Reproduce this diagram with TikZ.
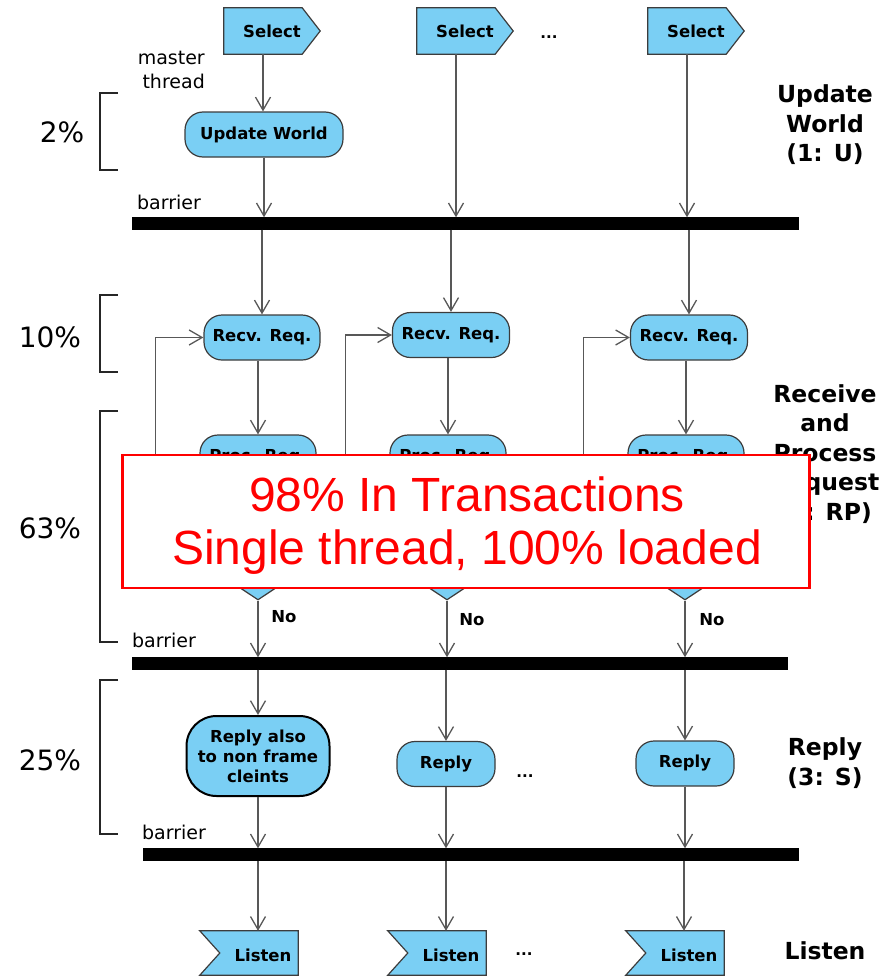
\documentclass[tikz,border=0pt]{standalone}
\usepackage{fontspec}
\setmainfont{DejaVu Sans}
\newfontfamily\redfont{Liberation Sans}
\usetikzlibrary{arrows.meta,shapes.geometric}
\definecolor{skyfill}{RGB}{122,207,244}
\definecolor{edgegray}{RGB}{60,60,60}
\definecolor{linegray}{RGB}{88,88,88}

\tikzset{
  lbl/.style={font=\fontsize{16.5}{20}\selectfont\bfseries, inner sep=0pt},
  act/.style={draw=edgegray, fill=skyfill, line width=1.2pt, rounded corners=18pt,
    minimum height=45pt, inner sep=0pt, align=center,
    font=\fontsize{16.5}{20}\selectfont\bfseries},
  holder/.style={minimum width=78pt, minimum height=46pt, inner sep=0pt},
  sig/.style={draw=edgegray, fill=skyfill, line width=1.2pt, line join=miter},
  arr/.style={draw=linegray, line width=1.3pt, -{Straight Barb[length=13pt,width=15pt]}},
  barbar/.style={fill=black, draw=black, inner sep=0pt, minimum height=12pt},
  choice/.style={diamond, draw=edgegray, fill=skyfill, line width=1.2pt,
    minimum width=60pt, minimum height=40pt, inner sep=0pt},
  note/.style={font=\fontsize{19}{24}\selectfont, inner sep=0pt},
  pct/.style={font=\fontsize{28}{32}\selectfont, inner sep=0pt},
  phase/.style={font=\fontsize{23.5}{29.5}\selectfont\bfseries, align=center, inner sep=0pt},
  brk/.style={draw=black!85, line width=2pt},
  dots/.style={font=\fontsize{15}{18}\selectfont\bfseries, inner sep=0pt},
}

\begin{document}
\begin{tikzpicture}[x=1pt,y=-1pt]
\useasboundingbox (0,0) rectangle (889,977);

% ---- Select signals ----
\node[holder] (s1) at (263,31) {};
\node[holder] (s2) at (456,31) {};
\node[holder] (s3) at (687,31) {};
\foreach \s in {s1,s2,s3}{
  \filldraw[sig] (\s.north west) -- (\s.north east) -- ([xshift=18pt]\s.east)
    -- (\s.south east) -- (\s.south west) -- cycle;
  \node[lbl] (\s-txt) at ([xshift=9pt]\s.center) {Select};
}
\node[dots] (dt1) at (549,37) {...};
\node[note, align=right, anchor=east] (master) at (205,70) {master\\thread};

% ---- Update world ----
\node[act, minimum width=158pt] (uw) at (264,134.5) {Update World};

% ---- barriers ----
\node[barbar, minimum width=666pt] (b1) at (465,223.5) {};
\node[barbar, minimum width=655pt] (b2) at (459.5,663.5) {};
\node[barbar, minimum width=655pt] (b3) at (470.5,854.5) {};
\node[note] (bl1) at (169,202) {barrier};
\node[note] (bl2) at (164,640) {barrier};
\node[note] (bl3) at (174,832) {barrier};

\draw[arr] (s1.south) -- (s1.south |- uw.north);
\draw[arr] (uw.south) -- (uw.south |- b1.north);
\draw[arr] (s2.south) -- (s2.south |- b1.north);
\draw[arr] (s3.south) -- (s3.south |- b1.north);

% ---- receive requests ----
\node[act, minimum width=116pt] (r1) at (262,337.5) {Recv. Req.};
\node[act, minimum width=117pt] (r2) at (451,335) {Recv. Req.};
\node[act, minimum width=117pt] (r3) at (689,337.5) {Recv. Req.};
\foreach \r in {r1,r2,r3}{
  \draw[arr] (\r.north |- b1.south) -- (\r.north);
}

% ---- process requests ----
\node[act, minimum width=116pt] (p1) at (258,457.5) {Proc. Req.};
\node[act, minimum width=116pt] (p2) at (448,457.5) {Proc. Req.};
\node[act, minimum width=116pt] (p3) at (686,457.5) {Proc. Req.};
\node[dots] (dt2) at (534,457) {...};

\node[choice] (d1) at (258,580) {};
\node[choice] (d2) at (447,580) {};
\node[choice] (d3) at (685,580) {};

\foreach \r/\p/\d in {r1/p1/d1, r2/p2/d2, r3/p3/d3}{
  \draw[arr] (\r.south -| \p.north) -- (\p.north);
  \draw[arr] (\p.south) -- (\d.north);
  \draw[arr] (\d.south) -- (\d.south |- b2.north);
}
\draw[arr] (d1.west) -| ([xshift=-48pt]r1.west) -- (r1.west);
\draw[arr] (d2.west) -| ([xshift=-46.5pt]r2.west) -- (r2.west);
\draw[arr] (d3.west) -| ([xshift=-46.5pt]r3.west) -- (r3.west);

\node[lbl] (no1) at (284,617) {No};
\node[lbl] (no2) at (472,620) {No};
\node[lbl] (no3) at (712,620) {No};

% ---- replies ----
\node[act, minimum width=143pt, minimum height=80pt, rounded corners=30pt,
      draw=black, line width=2pt] (rp1) at (258,756) {Reply also\\to non frame\\cleints};
\node[act, minimum width=98pt] (rp2) at (446,764) {Reply};
\node[act, minimum width=98pt] (rp3) at (685,763.5) {Reply};
\node[dots] (dt3) at (525,776) {...};
\foreach \q in {rp1,rp2,rp3}{
  \draw[arr] (\q.north |- b2.south) -- (\q.north);
  \draw[arr] (\q.south) -- (\q.south |- b3.north);
}

% ---- listen signals ----
\node[holder, minimum width=98pt, minimum height=44pt] (l1) at (249,953) {};
\node[holder, minimum width=98pt, minimum height=44pt] (l2) at (437,953) {};
\node[holder, minimum width=98pt, minimum height=44pt] (l3) at (675,953) {};
\foreach \l in {l1,l2,l3}{
  \filldraw[sig] (\l.north west) -- (\l.north east) -- (\l.south east)
    -- (\l.south west) -- ([xshift=20pt]\l.west) -- cycle;
  \node[lbl] (\l-txt) at ([xshift=14pt,yshift=-2pt]\l.center) {Listen};
  \draw[arr] ([xshift=9pt]\l.north |- b3.south) -- ([xshift=9pt]\l.north);
}
\node[dots] (dt4) at (524,954) {...};

% ---- phase names ----
\node[phase] (ph1) at (825,125) {Update\\World\\(1: U)};
\node[phase] (ph2) at (825,454) {Receive\\and\\Process\\Request\\(2: RP)};
\node[phase] (ph3) at (825,763) {Reply\\(3: S)};
\node[phase] (ph4) at (825,951) {Listen};

% ---- time shares ----
\node[pct] (pc1) at (62,132) {2\%};
\node[pct] (pc2) at (50,337) {10\%};
\node[pct] (pc3) at (50,528) {63\%};
\node[pct] (pc4) at (50,760) {25\%};
\draw[brk] (118,93) -- (100,93) -- (100,170) -- (118,170);
\draw[brk] (118,295) -- (100,295) -- (100,372) -- (118,372);
\draw[brk] (118,411) -- (100,411) -- (100,642) -- (118,642);
\draw[brk] (118,680) -- (100,680) -- (100,834) -- (118,834);

% ---- overlay note ----
\node[draw=red, line width=2.5pt, fill=white, minimum width=687pt, minimum height=133pt,
      inner sep=0pt] (warn) at (466,521.5) {};
\node[align=center, text=red, inner sep=0pt,
      font=\redfont\fontsize{48}{53}\selectfont] (warn-txt) at (467,526)
      {98\% In Transactions\\Single thread, 100\% loaded};
\end{tikzpicture}
\end{document}
